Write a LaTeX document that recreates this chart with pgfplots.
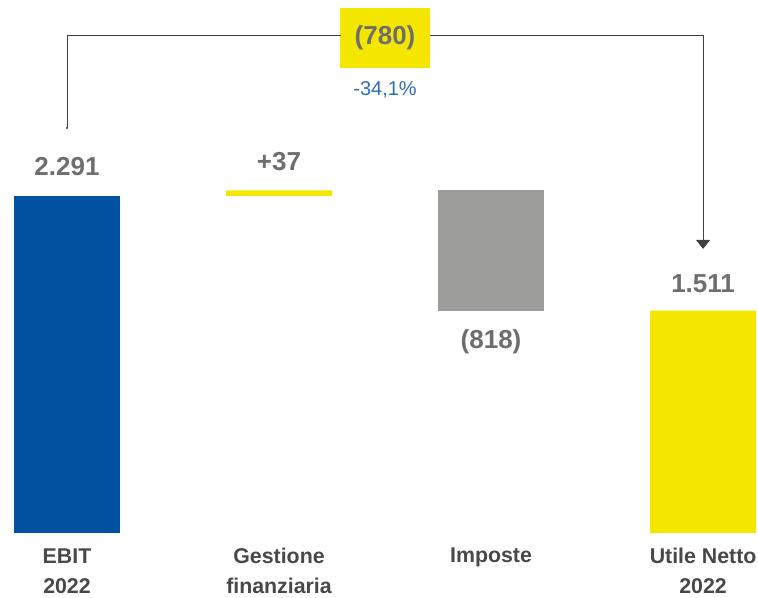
\documentclass[border=0pt]{standalone}
\usepackage{pgfplots}
\pgfplotsset{compat=1.18}
\usetikzlibrary{arrows.meta}
\usepackage{fontspec}
\setmainfont{Liberation Sans}
\definecolor{ebit}{RGB}{0,81,160}
\definecolor{gialla}{RGB}{245,230,0}
\definecolor{grigio}{RGB}{157,157,156}
\definecolor{valgray}{RGB}{110,110,110}
\definecolor{catgray}{RGB}{72,72,72}
\definecolor{pctblue}{RGB}{46,109,180}
\definecolor{linecol}{RGB}{64,64,64}
\begin{document}
\begin{tikzpicture}
\begin{axis}[
  scale only axis, width=568.5pt, height=448.5pt,
  xmin=-0.316, xmax=3.259, ymin=-442, ymax=3623,
  hide axis, clip=false,
  ybar stacked, bar width=0.5,
]
\path (rel axis cs:0,0) rectangle (rel axis cs:1,1);
\addplot[draw=none, fill=none] coordinates {(0,0) (1,2291) (2,1510) (3,0)};
\addplot[draw=none, fill=ebit] coordinates {(0,2291) (1,0) (2,0) (3,0)};
\addplot[draw=none, fill=gialla] coordinates {(0,0) (1,37) (2,0) (3,1511)};
\addplot[draw=none, fill=grigio] coordinates {(0,0) (1,0) (2,818) (3,0)};
% value labels
\tikzset{val/.style={text=valgray, font=\fontsize{19.5}{23}\selectfont\bfseries, inner sep=0pt}}
\node[val] at (axis cs:0,2488) {2.291};
\node[val] at (axis cs:1,2522) {+37};
\node[val] at (axis cs:2,1300) {(818)};
\node[val] at (axis cs:3,1693) {1.511};
% bracket
\draw[linecol, line width=0.75pt] (axis cs:0,2753) |- (axis cs:1.29,3379);
\draw[linecol, line width=0.75pt, -{Triangle[width=10.5pt,length=6.75pt]}]
  (axis cs:1.71,3379) -| (axis cs:3,1931);
\fill[linecol] (axis cs:0,2753) circle (0.8pt);
\node[fill=gialla, minimum width=67.5pt, minimum height=45pt, inner sep=0pt,
      text=valgray, font=\fontsize{19.5}{23}\selectfont\bfseries] at (axis cs:1.5,3365) {(780)};
\node[text=pctblue, font=\fontsize{15}{18}\selectfont, inner sep=0pt] at (axis cs:1.5,3012) {-34,1\%};
% category labels
\tikzset{cat/.style={text=catgray, align=center, inner sep=0pt, font=\fontsize{16}{22.5}\selectfont\bfseries}}
\node[cat] at (axis cs:0,-258) {EBIT\\2022};
\node[cat] at (axis cs:1,-258) {Gestione\\finanziaria};
\node[cat] at (axis cs:2,-165) {Imposte};
\node[cat] at (axis cs:3,-258) {Utile Netto\\2022};
\end{axis}
\end{tikzpicture}
\end{document}
